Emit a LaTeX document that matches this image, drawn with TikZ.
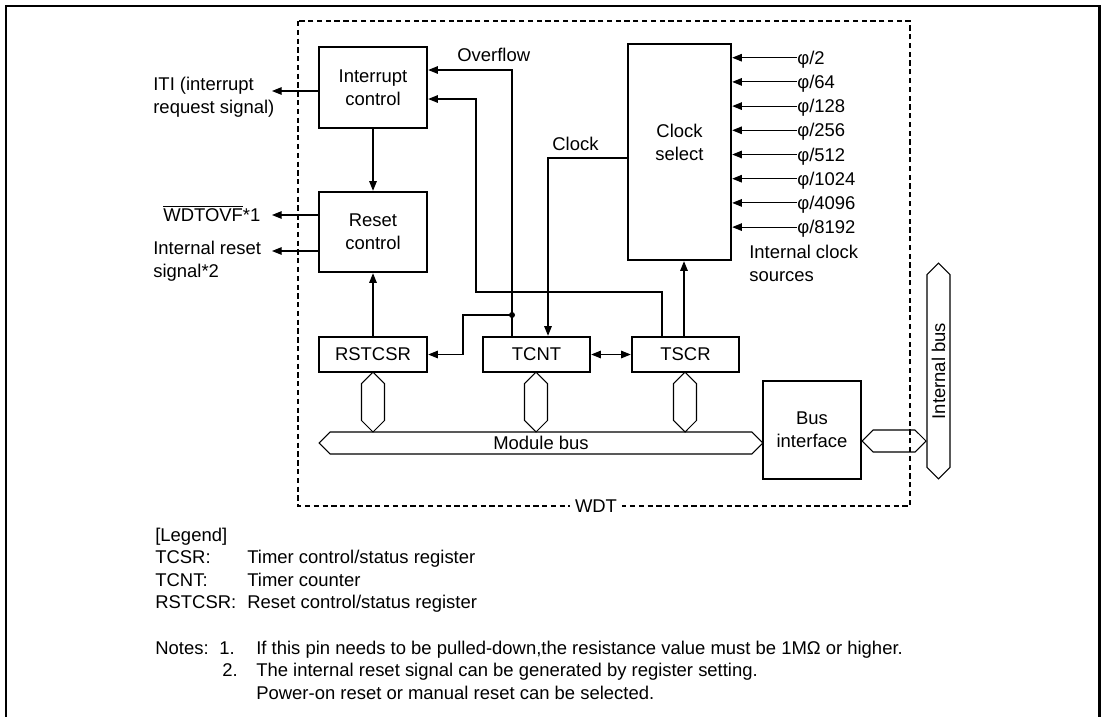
\documentclass[tikz,border=0pt]{standalone}
\usepackage{fontspec}
\setmainfont{Liberation Sans}
\usetikzlibrary{arrows.meta,shapes.symbols}

\begin{document}
\begin{tikzpicture}[x=0.02cm,y=-0.02cm,font=\fontsize{10.5}{13}\selectfont,
  blk/.style={draw,line width=1.4pt,inner sep=0pt,align=center},
  reg/.style={blk,minimum width=2.14cm,minimum height=0.7cm},
  bus/.style={draw,line width=0.6pt,signal,signal to=east and west,inner sep=0pt,minimum height=0.44cm},
  link/.style={bus,rotate=90,minimum width=1.2cm,minimum height=0.46cm},
  wire/.style={line width=0.6pt},
  sig/.style={wire,-{Triangle[length=5.5pt,width=4.3pt]}},
  txt/.style={inner sep=0pt,anchor=west,align=left},
  row/.style={txt,text height=7.5pt,text depth=0pt}]
\useasboundingbox (0,0) rectangle (1103,717);
% frame and module outline
\draw[line width=1.7pt] (6,730) -- (6,6) -- (1099,6) -- (1099,730);
\draw[wire,dash pattern=on 3pt off 2pt] (298,21) rectangle (910,506);
\node[fill=white,inner sep=3pt] (wdt) at (596,506) {WDT};
% blocks
\node[blk,minimum width=2.16cm,minimum height=1.62cm] (intctl) at (373,87.5) {Interrupt\\control};
\node[blk,minimum width=2.16cm,minimum height=1.6cm] (rstctl) at (373,232) {Reset\\control};
\node[blk,minimum width=2.06cm,minimum height=4.32cm,
  label={[align=center,yshift=0.2cm]center:Clock\\select}] (clksel) at (679.5,152) {};
\node[reg,minimum width=2.16cm] (rstcsr) at (373,354.5) {RSTCSR};
\node[reg] (tcnt) at (536.5,354.5) {TCNT};
\node[reg] (tscr) at (685.5,354.5) {TSCR};
\node[blk,minimum width=1.96cm,minimum height=1.96cm] (busif) at (812,430) {Bus\\interface};
% buses
\node[bus,minimum width=8.88cm] (mbus) at (541,443) {Module bus};
\node[link] (lk1) at (373,402) {};
\node[link] (lk2) at (536,402) {};
\node[link] (lk3) at (685,402) {};
\node[bus,minimum width=1.28cm] (lk4) at (894,441) {};
\node[bus,rotate=90,minimum width=4.32cm,minimum height=0.46cm] (ibus) at (938.5,371) {Internal bus};
% outputs
\coordinate (iti) at (272,91);
\coordinate (ovfout) at (272,215);
\coordinate (rstout) at (272,251);
\draw[sig] (intctl) -- (rstctl);
\draw[sig] (intctl.west |- iti) -- (iti);
\draw[sig] (rstctl.west |- ovfout) -- (ovfout);
\draw[sig] (rstctl.west |- rstout) -- (rstout);
\draw[sig] (rstcsr) -- (rstctl);
\node[txt] (itil) at (153,97.5) {ITI (interrupt\\request signal)};
\node[row] (ovfoutl) at (163,215) {$\overline{\hbox{WDTOVF}}$*1};
\node[txt] (rstoutl) at (153,261.5) {Internal reset\\signal*2};
% internal wiring
\coordinate (ovf) at (512,70);
\coordinate (jn) at (512,315);
\coordinate (jb) at (463,315);
\coordinate (tsx) at (662,292);
\coordinate (tsy) at (476,99);
\coordinate (clk) at (548,158);
\coordinate (tsc) at (684,0);
\draw[sig] (tcnt.north -| ovf) -- (ovf) -- (intctl.east |- ovf);
\fill (jn) circle[radius=0.06cm];
\draw[sig] (jn) -- (jb) |- (rstcsr.east);
\draw[sig] (tscr.north -| tsx) -- (tsx) -| (tsy) -- (intctl.east |- tsy);
\draw[sig] (clksel.west |- clk) -- (clk) -- (clk |- tcnt.north);
\draw[sig] (tscr.north -| tsc) -- (clksel.south -| tsc);
\draw[wire,{Triangle[length=5.5pt,width=4.3pt]}-{Triangle[length=5.5pt,width=4.3pt]}] (tcnt) -- (tscr);
\node[row] (ovfl) at (457,55) {Overflow};
\node[row] (clkl) at (552,144) {Clock};
% clock sources
\foreach \d [count=\i from 0] in {2,64,128,256,512,1024,4096,8192}
  {\node[row] (ck\d) at (797,57.7+24.2*\i) {φ/\d};
   \draw[sig] (ck\d.west) -- (clksel.east |- ck\d.west);}
\node[txt] (srcl) at (749,263.5) {Internal clock\\sources};
% legend and notes
\node[row] (leg) at (155,535) {[Legend]};
\foreach \r/\t [count=\i] in {TCSR:/{Timer control/status register},TCNT:/{Timer counter},RSTCSR:/{Reset control/status register}}
  {\node[row] (lr\i) at (155,535+22.3*\i) {\r};
   \node[row] (lt\i) at (247,535+22.3*\i) {\t};}
\node[row] (notes) at (155,648) {Notes:};
\node[row] (n1) at (219,648) {1.};
\node[row] (n1t) at (256,648) {If this pin needs to be pulled-down,the resistance value must be 1MΩ or higher.};
\node[row] (n2) at (222,670) {2.};
\node[row] (n2t) at (256,670) {The internal reset signal can be generated by register setting.};
\node[row] (n2u) at (256,692.5) {Power-on reset or manual reset can be selected.};
\end{tikzpicture}
\end{document}
